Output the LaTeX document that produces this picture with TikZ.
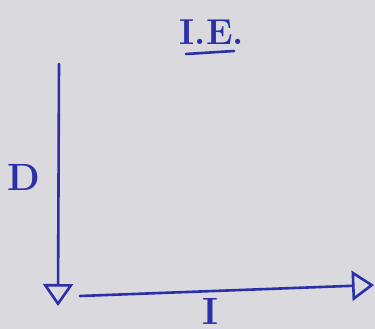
\documentclass[tikz,border=0pt]{standalone}
\usetikzlibrary{arrows.meta}
\definecolor{ink}{HTML}{2B2FA8}
\definecolor{paper}{HTML}{D9D9DE}
\begin{document}
\begin{tikzpicture}[x=1pt,y=-1pt,
  pen/.style={draw=ink,line width=2.6pt,line cap=round},
  lbl/.style={text=ink,inner sep=0pt,font=\fontsize{38}{38}\selectfont\bfseries},
  head/.style={-{Triangle[open,length=22pt,width=30pt,line width=2.6pt]}}]
\fill[paper] (0,0) rectangle (375,329);
\useasboundingbox (0,0) rectangle (375,329);
\node[lbl,anchor=base,font=\fontsize{36}{36}\selectfont\bfseries] (title) at (212,45) {I.E.};
\coordinate (ul1) at (186,54);
\coordinate (ul2) at (234,51);
\draw[pen] (ul1) -- (ul2);
\coordinate (vtop) at (59,64);
\coordinate (vtip) at (58,306);
\draw[pen,head] (vtop) -- (vtip);
\coordinate (hstart) at (80,296);
\coordinate (htip) at (374,285);
\draw[pen,head] (hstart) -- (htip);
\node[lbl,anchor=base] (D) at (24,190) {D};
\node[lbl,anchor=base] (I) at (210,324) {I};
\end{tikzpicture}
\end{document}
